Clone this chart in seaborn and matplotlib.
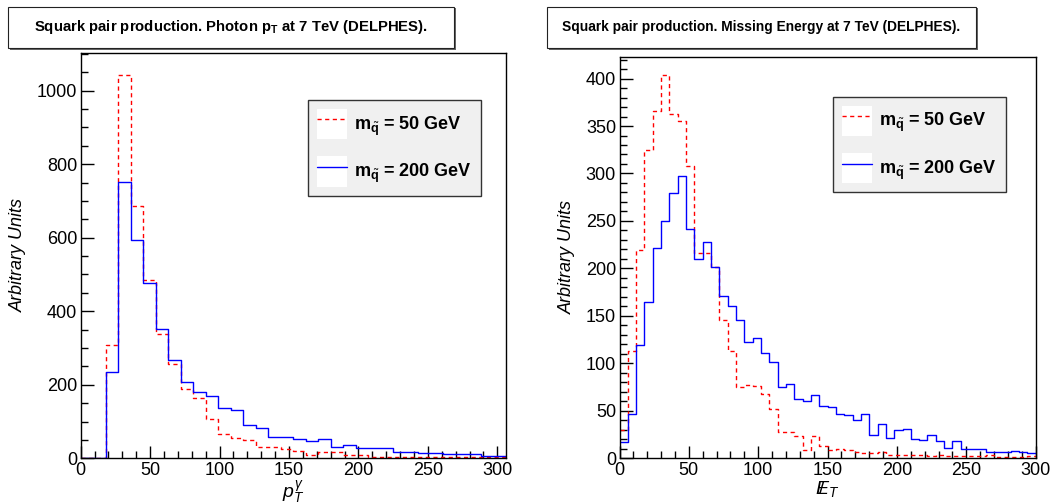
import numpy as np
import pandas as pd
import seaborn as sns
import matplotlib.pyplot as plt
from matplotlib.patches import Rectangle, Patch
from matplotlib.lines import Line2D
from matplotlib.ticker import MultipleLocator

# photon pT, 34 bins of 9 GeV from 0 to 306
pt_edges = np.arange(0, 307, 9)
pt_m50 = [0, 0, 308, 1043, 686, 484, 339, 256, 189, 163,
          108, 67, 56, 50, 32, 32, 24, 20, 9, 17,
          17, 9, 9, 3, 3, 3, 3, 3, 3, 3,
          3, 3, 4, 4]
pt_m200 = [0, 0, 234, 752, 593, 477, 351, 268, 207, 181,
           169, 138, 131, 90, 83, 59, 59, 52, 46, 53,
           32, 35, 28, 29, 27, 16, 16, 15, 15, 11,
           11, 11, 5, 7]

# missing energy, 50 bins of 6 GeV from 0 to 300
met_edges = np.arange(0, 301, 6)
met_m50 = [30, 113, 219, 325, 366, 404, 363, 355, 308, 216,
           216, 202, 146, 113, 75, 77, 76, 68, 52, 28,
           28, 23, 9, 24, 13, 9, 10, 9, 7, 6,
           6, 7, 4, 3, 4, 3, 4, 2, 3, 2,
           2, 2, 2, 2, 4, 1, 1, 1, 1, 2]
met_m200 = [17, 47, 119, 165, 222, 250, 279, 297, 242, 210,
            228, 201, 171, 160, 146, 122, 127, 111, 101, 75,
            78, 62, 60, 67, 55, 54, 47, 46, 40, 47,
            25, 36, 21, 30, 31, 20, 19, 25, 18, 11,
            18, 10, 10, 10, 7, 7, 7, 8, 7, 6]

labels = [r'$\mathbf{m}_{\tilde{\mathbf{q}}}$ = 50 GeV',
          r'$\mathbf{m}_{\tilde{\mathbf{q}}}$ = 200 GeV']

sns.set_style('ticks', {'text.color': 'black', 'axes.labelcolor': 'black',
                        'xtick.color': 'black', 'ytick.color': 'black',
                        'axes.edgecolor': 'black'})
plt.rcParams['font.family'] = ['Liberation Sans', 'DejaVu Sans']
plt.rcParams['mathtext.fontset'] = 'custom'
plt.rcParams['mathtext.rm'] = 'Liberation Sans'
plt.rcParams['mathtext.it'] = 'Liberation Sans:italic'
plt.rcParams['mathtext.bf'] = 'Liberation Sans:bold'

W, H = 1062, 504
fig = plt.figure(figsize=(W / 100, H / 100), dpi=100)
DASH = (0, (3, 2.5))


def px_axes(x0, x1, ytop, ybot):
    return fig.add_axes([x0 / W, 1 - ybot / H, (x1 - x0) / W, (ybot - ytop) / H])


def draw_hist(ax, edges, m50, m200):
    centers = (edges[:-1] + edges[1:]) / 2
    df = pd.DataFrame({'x': centers, 'm50': m50, 'm200': m200})
    nb = len(edges) - 1
    rng = (edges[0], edges[-1])
    sns.histplot(data=df, x='x', weights='m50', bins=nb, binrange=rng, element='step', fill=False,
                 color='#ff0000', linestyle=DASH, linewidth=1, ax=ax)
    sns.histplot(data=df, x='x', weights='m200', bins=nb, binrange=rng, element='step', fill=False,
                 color='#0000ff', linestyle='-', linewidth=1, ax=ax)


def style_axes(ax, xmax, ymax, ymaj, ymin_):
    ax.set_xlim(0, xmax)
    ax.set_ylim(0, ymax)
    ax.xaxis.set_major_locator(MultipleLocator(50))
    ax.xaxis.set_minor_locator(MultipleLocator(10))
    ax.yaxis.set_major_locator(MultipleLocator(ymaj))
    ax.yaxis.set_minor_locator(MultipleLocator(ymin_))
    ax.tick_params(which='both', direction='in', top=False, right=False, labelsize=13, pad=2.5,
                   colors='black')
    ax.tick_params(which='major', length=9, width=1)
    ax.tick_params(which='minor', length=5, width=1)
    for s in ax.spines.values():
        s.set_linewidth(1)
        s.set_color('black')
    ax.set_ylabel('Arbitrary Units', fontstyle='italic', fontsize=13, labelpad=7)


def add_legend(ax, x0, y0):
    handles = [(Patch(facecolor='white', edgecolor='none'), Line2D([], [], color='#ff0000', ls=DASH, lw=1)),
               (Patch(facecolor='white', edgecolor='none'), Line2D([], [], color='#0000ff', ls='-', lw=1))]
    leg = ax.legend(handles, labels, loc='upper left', bbox_to_anchor=(x0 / W, 1 - y0 / H),
                    bbox_transform=fig.transFigure, prop={'size': 13, 'weight': 'bold'},
                    handlelength=1.7, handleheight=2.2, labelspacing=0.95, borderpad=0.5,
                    handletextpad=0.35, borderaxespad=0, fancybox=False, framealpha=1,
                    facecolor='#f0f0f0', edgecolor='#333333')
    leg.get_frame().set_linewidth(1)


def title_box(x0, x1, text, size):
    y0, y1 = 7, 48
    fig.patches.append(Rectangle((x0 / W + 1.5 / W, 1 - (y1 + 1.5) / H), (x1 - x0) / W, (y1 - y0) / H,
                                 transform=fig.transFigure, facecolor='#666666', edgecolor='none'))
    fig.patches.append(Rectangle((x0 / W, 1 - y1 / H), (x1 - x0) / W, (y1 - y0) / H,
                                 transform=fig.transFigure, facecolor='white', edgecolor='#222222', lw=0.8))
    fig.text((x0 + x1) / 2 / W, 1 - 27 / H, text, ha='center', va='center',
             fontsize=size, fontweight='bold')


ax1 = px_axes(80.7, 505.7, 52.7, 458.3)
draw_hist(ax1, pt_edges, pt_m50, pt_m200)
style_axes(ax1, 306, 1103, 200, 50)
ax1.set_xlabel(r'$p_{T}^{\gamma}$', fontsize=14, labelpad=0)
add_legend(ax1, 307.7, 100)

ax2 = px_axes(619.5, 1035.7, 56.7, 458.3)
draw_hist(ax2, met_edges, met_m50, met_m200)
style_axes(ax2, 300, 423, 50, 10)
ax2.set_xlabel(r'$/\!\!\!E_{T}$', fontsize=14, labelpad=0)
add_legend(ax2, 832.7, 96.7)

title_box(8, 454, r'Squark pair production. Photon $\mathbf{p}_{\mathbf{T}}$ at 7 TeV (DELPHES).', 10.7)
title_box(547, 976, 'Squark pair production. Missing Energy at 7 TeV (DELPHES).', 9.9)

fig.savefig('out.png', dpi=100)
